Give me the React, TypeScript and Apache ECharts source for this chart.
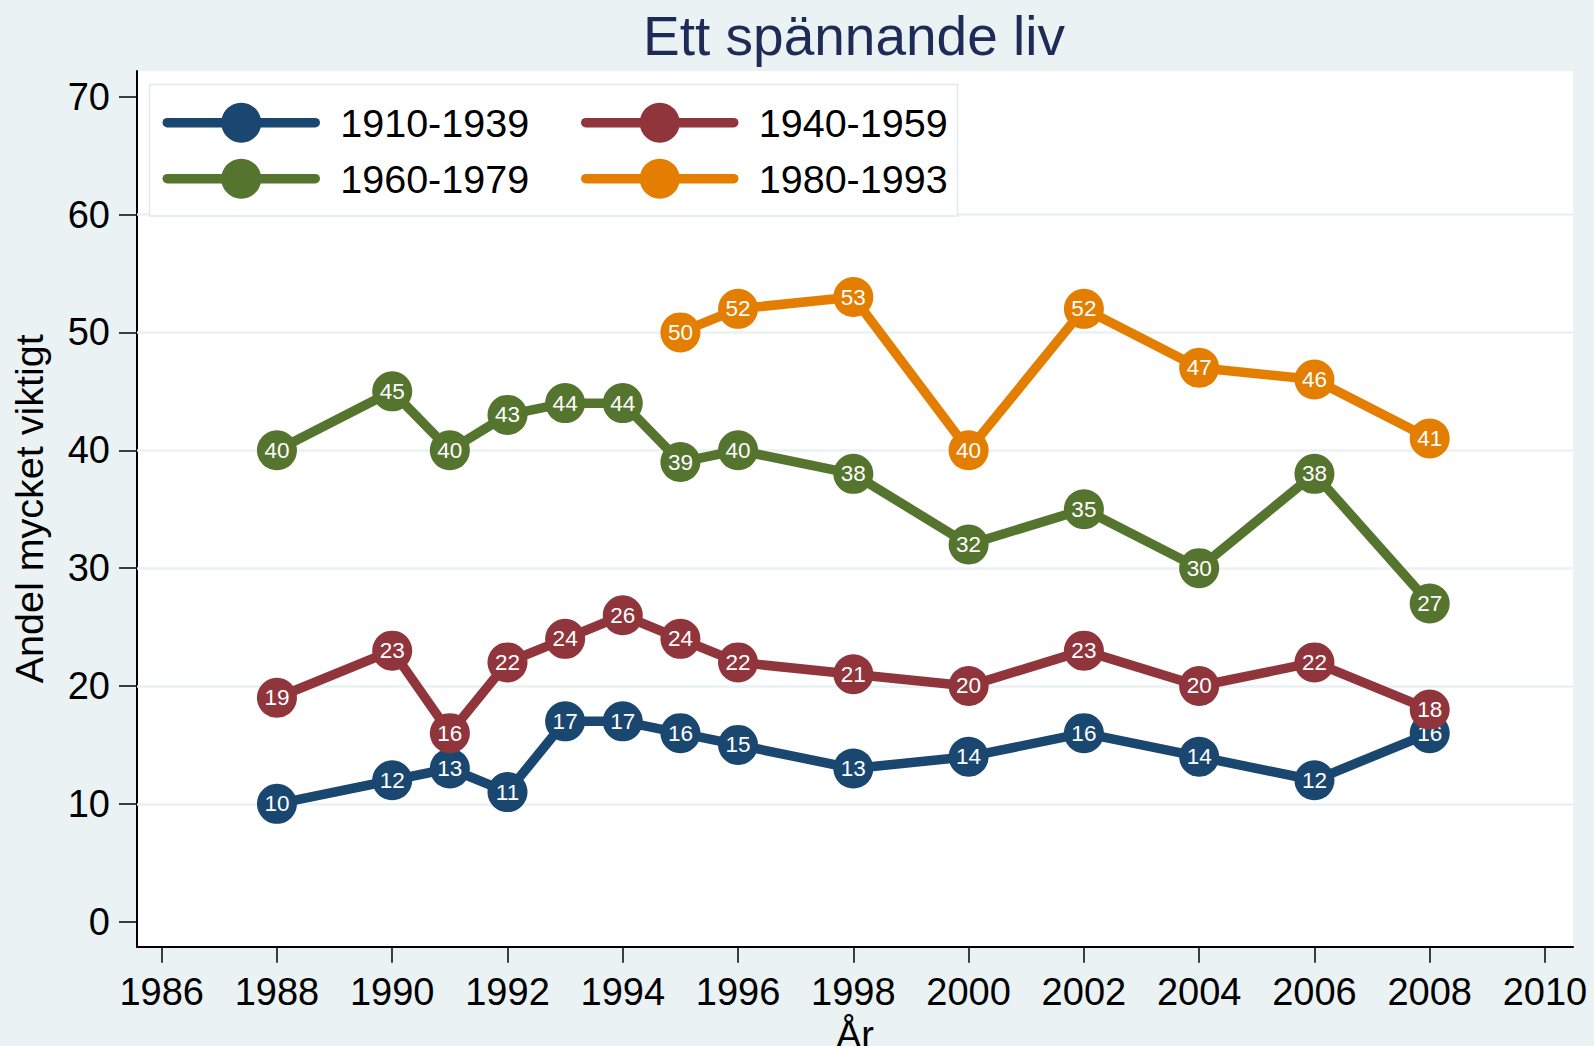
import React, { useEffect, useRef } from "react";
import * as echarts from "echarts";

// ---- data ----
const yearsMain = [1988, 1990, 1991, 1992, 1993, 1994, 1995, 1996, 1998, 2000, 2002, 2004, 2006, 2008];
const cohort1910 = [10, 12, 13, 11, 17, 17, 16, 15, 13, 14, 16, 14, 12, 16];
const cohort1940 = [19, 23, 16, 22, 24, 26, 24, 22, 21, 20, 23, 20, 22, 18];
const cohort1960 = [40, 45, 40, 43, 44, 44, 39, 40, 38, 32, 35, 30, 38, 27];
const years1980 = [1995, 1996, 1998, 2000, 2002, 2004, 2006, 2008];
const cohort1980 = [50, 52, 53, 40, 52, 47, 46, 41];
const seriesNames = ["1910-1939", "1940-1959", "1960-1979", "1980-1993"];
const xTicks = [1986, 1988, 1990, 1992, 1994, 1996, 1998, 2000, 2002, 2004, 2006, 2008, 2010];
const yTicks = [0, 10, 20, 30, 40, 50, 60, 70];
const yGridValues = [10, 20, 30, 40, 50, 60];

const titleText = "Ett spännande liv";
const xTitle = "År";
const yTitle = "Andel mycket viktigt";

const colors = ["#1a476f", "#90353b", "#55752f", "#e37e00"];
const FONT = "'Liberation Sans', Arial, Helvetica, sans-serif";
const BG = "#eaf2f3";

const zip = (xs: number[], ys: number[]) => xs.map((x, i) => [x, ys[i]]);

export default function App() {
  const ref = useRef<HTMLDivElement>(null);

  useEffect(() => {
    if (!ref.current) return;
    const chart = echarts.init(ref.current, null, { renderer: "svg" });

    const seriesData = [
      zip(yearsMain, cohort1910),
      zip(yearsMain, cohort1940),
      zip(yearsMain, cohort1960),
      zip(years1980, cohort1980),
    ];

    const series: any[] = seriesData.map((d, i) => ({
      type: "line",
      name: seriesNames[i],
      data: d,
      z: 5 + i,
      symbol: "circle",
      symbolSize: 40,
      showAllSymbol: true,
      color: colors[i],
      lineStyle: { width: 9.5, color: colors[i], cap: "round", join: "round" },
      itemStyle: { color: colors[i], borderWidth: 0 },
      label: {
        show: true,
        position: "inside",
        color: "#ffffff",
        fontSize: 22.5,
        fontFamily: FONT,
        formatter: (p: any) => String(p.value[1]),
      },
      emphasis: { disabled: true },
      ...(i === 0
        ? {
            markLine: {
              z: 1,
              silent: true,
              symbol: "none",
              animation: false,
              label: { show: false },
              emphasis: { disabled: true },
              lineStyle: { color: BG, width: 2.5, type: "solid" },
              data: yGridValues.map((v) => ({ yAxis: v })),
            },
          }
        : {}),
    }));

    const legendPos = [
      { left: 162.5, top: 102.7 },
      { left: 581, top: 102.7 },
      { left: 162.5, top: 158.7 },
      { left: 581, top: 158.7 },
    ];

    const legends = seriesNames.map((n, i) => ({
      data: [n],
      left: legendPos[i].left,
      top: legendPos[i].top,
      orient: "horizontal",
      padding: 0,
      itemWidth: 148,
      itemHeight: 50,
      selectedMode: false,
      z: 4,
      lineStyle: { width: 9.5, cap: "round" },
      itemStyle: { borderWidth: 0 },
      textStyle: {
        fontSize: 39.5,
        fontFamily: FONT,
        color: "#000",
        padding: [0, 0, 0, 20],
      },
    }));

    const option: any = {
      animation: false,
      backgroundColor: BG,
      textStyle: { fontFamily: FONT },
      grid: {
        left: 137,
        right: 21,
        top: 71,
        bottom: 99.3,
        show: true,
        backgroundColor: "#ffffff",
        borderWidth: 0,
        containLabel: false,
        outerBoundsMode: "none",
      },
      xAxis: {
        type: "value",
        min: 1985.572,
        max: 2010.486,
        name: xTitle,
        nameLocation: "middle",
        nameGap: 63,
        nameTextStyle: { fontSize: 38, color: "#000", fontFamily: FONT },
        axisLine: { show: true, onZero: false, lineStyle: { color: "#000", width: 2 } },
        axisTick: { show: true, inside: false, length: 16, lineStyle: { color: "#000", width: 1.5 }, customValues: xTicks },
        axisLabel: {
          show: true,
          customValues: xTicks,
          margin: 26,
          fontSize: 38,
          color: "#000",
          fontFamily: FONT,
          formatter: (v: number) => String(v),
        },
        splitLine: { show: false },
      },
      yAxis: {
        type: "value",
        min: -2.121,
        max: 72.18,
        name: yTitle,
        nameLocation: "middle",
        nameGap: 88,
        nameTextStyle: { fontSize: 39.5, color: "#000", fontFamily: FONT },
        axisLine: { show: true, onZero: false, lineStyle: { color: "#000", width: 2 } },
        axisTick: { show: true, inside: false, length: 18, lineStyle: { color: "#000", width: 1.5 }, customValues: yTicks },
        axisLabel: {
          show: true,
          customValues: yTicks,
          margin: 27,
          fontSize: 38,
          color: "#000",
          fontFamily: FONT,
          formatter: (v: number) => String(v),
        },
        splitLine: { show: false },
      },
      legend: legends,
      graphic: [
        {
          type: "rect",
          z: 2,
          silent: true,
          shape: { x: 149.5, y: 84.5, width: 808, height: 131.5 },
          style: { fill: "#ffffff", stroke: "#e0e9eb", lineWidth: 1.5 },
        },
        {
          type: "text",
          z: 10,
          silent: true,
          x: 854,
          y: 36,
          style: {
            text: titleText,
            fontSize: 55,
            fontFamily: FONT,
            fill: "#1e2b57",
            align: "center",
            verticalAlign: "middle",
          },
        },
      ],
      series,
    };

    chart.setOption(option);
    return () => chart.dispose();
  }, []);

  return (
    <div
      ref={ref}
      style={{ position: "fixed", left: 0, top: 0, width: 1594, height: 1046 }}
    />
  );
}
